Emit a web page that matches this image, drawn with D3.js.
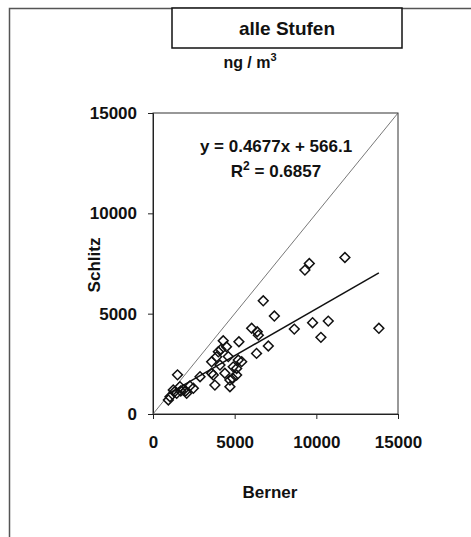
<!DOCTYPE html>
<html>
<meta charset="utf-8">
<head>
  <title>alle Stufen</title>
  <script src="https://d3js.org/d3.v7.min.js"></script>
  <style type="text/css">
    body {margin: 0; background: #fff;}
    text {font-family: "Liberation Sans", Arial, sans-serif; fill: #111;}
    .axis text {font-size: 17px; font-weight: bold;}
    .axis path, .axis line {stroke: #222;}
  </style>
</head>
<body>
<script>
    // Berner vs Schlitz, ng/m3
    var berner = [11750, 9570, 9300, 6750, 7430, 8650, 9770, 10730, 10280, 13830,
        6040, 6380, 6450, 7060, 6340, 5260, 5430, 5120, 4300, 4160,
        4500, 4610, 4000, 3590, 3690, 3790, 4710, 4880, 4400, 2880,
        2260, 1500, 1650, 1860, 1240, 1450, 1040, 2060, 2470, 940,
        1300, 1700, 2000, 3900, 5220, 4100, 4910, 3590, 4710, 5120];
    var schlitz = [7800, 7500, 7170, 5640, 4880, 4230, 4550, 4630, 3820, 4270,
        4270, 4100, 3930, 3390, 3020, 3600, 2610, 2270, 3650, 3220,
        3350, 2860, 3100, 2600, 1940, 1440, 1360, 1780, 2030, 1860,
        1400, 1950, 1360, 1200, 1200, 1030, 860, 1030, 1280, 700,
        1100, 1150, 1150, 2850, 2690, 2440, 2350, 2030, 1690, 1940];
    var ticks = [0, 5000, 10000, 15000];
    var slope = 0.4677,
        intercept = 566.1;

    var width = 471,
        height = 537;

    var svg = d3.select("body")
        .append("svg")
        .attr("width", width)
        .attr("height", height);

    // outer frame (top and left edges only)
    svg.append("path")
        .attr("d", "M9.5,537 V8.5 H471")
        .attr("fill", "none")
        .attr("stroke", "#555")
        .attr("stroke-width", 1.5);

    // title box
    svg.append("rect")
        .attr("x", 172).attr("y", 8)
        .attr("width", 230).attr("height", 40)
        .attr("fill", "#fff")
        .attr("stroke", "#111")
        .attr("stroke-width", 1.5);
    svg.append("text")
        .attr("x", 287).attr("y", 35)
        .attr("text-anchor", "middle")
        .style("font-size", "19px").style("font-weight", "bold")
        .text("alle Stufen");

    var unit = svg.append("text")
        .attr("x", 250).attr("y", 68)
        .attr("text-anchor", "middle")
        .style("font-size", "16px").style("font-weight", "bold");
    unit.append("tspan").text("ng / m");
    unit.append("tspan").attr("dy", -7).style("font-size", "11px").text("3");

    // scales
    var x = d3.scaleLinear().domain([0, 15000]).range([153, 398]);
    var y = d3.scaleLinear().domain([0, 15000]).range([414, 113]);

    // plot frame
    svg.append("rect")
        .attr("x", x(0)).attr("y", y(15000))
        .attr("width", x(15000) - x(0))
        .attr("height", y(0) - y(15000))
        .attr("fill", "none")
        .attr("stroke", "#333")
        .attr("stroke-width", 1);

    svg.append("g")
        .attr("class", "axis")
        .attr("transform", "translate(0," + y(0) + ")")
        .call(d3.axisBottom(x).tickValues(ticks).tickFormat(d3.format("d"))
            .tickSizeOuter(0).tickSize(5).tickPadding(17));

    svg.append("g")
        .attr("class", "axis")
        .attr("transform", "translate(" + x(0) + ",0)")
        .call(d3.axisLeft(y).tickValues(ticks).tickFormat(d3.format("d"))
            .tickSizeOuter(0).tickSize(5).tickPadding(11));

    // 1:1 line
    svg.append("line")
        .attr("x1", x(0)).attr("y1", y(0))
        .attr("x2", x(15000)).attr("y2", y(15000))
        .attr("stroke", "#555")
        .attr("stroke-width", 0.8);

    // regression line
    var xmin = d3.min(berner),
        xmax = d3.max(berner);
    svg.append("line")
        .attr("x1", x(xmin)).attr("y1", y(slope * xmin + intercept))
        .attr("x2", x(xmax)).attr("y2", y(slope * xmax + intercept))
        .attr("stroke", "#111")
        .attr("stroke-width", 1.5);

    // points
    var pts = berner.map(function(d, i) {
        return [d, schlitz[i]];
    });
    svg.selectAll(".pt")
        .data(pts)
        .enter()
        .append("path")
        .attr("class", "pt")
        .attr("d", d3.symbol().type(d3.symbolSquare).size(48))
        .attr("transform", function(d) {
            return "translate(" + x(d[0]) + "," + y(d[1]) + ") rotate(45)";
        })
        .attr("fill", "none")
        .attr("stroke", "#111")
        .attr("stroke-width", 1.5);

    // equation
    svg.append("text")
        .attr("x", 276).attr("y", 152)
        .attr("text-anchor", "middle")
        .style("font-size", "17px").style("font-weight", "bold")
        .text("y = " + slope + "x + " + intercept);
    var r2 = svg.append("text")
        .attr("x", 276).attr("y", 177)
        .attr("text-anchor", "middle")
        .style("font-size", "17px").style("font-weight", "bold");
    r2.append("tspan").text("R");
    r2.append("tspan").attr("dy", -7).style("font-size", "12px").text("2");
    r2.append("tspan").attr("dy", 7).text(" = 0.6857");

    // axis titles
    svg.append("text")
        .attr("transform", "translate(100,265) rotate(-90)")
        .attr("text-anchor", "middle")
        .style("font-size", "17px").style("font-weight", "bold")
        .text("Schlitz");
    svg.append("text")
        .attr("x", 270).attr("y", 498)
        .attr("text-anchor", "middle")
        .style("font-size", "17px").style("font-weight", "bold")
        .text("Berner");
</script>
</body>
</html>
